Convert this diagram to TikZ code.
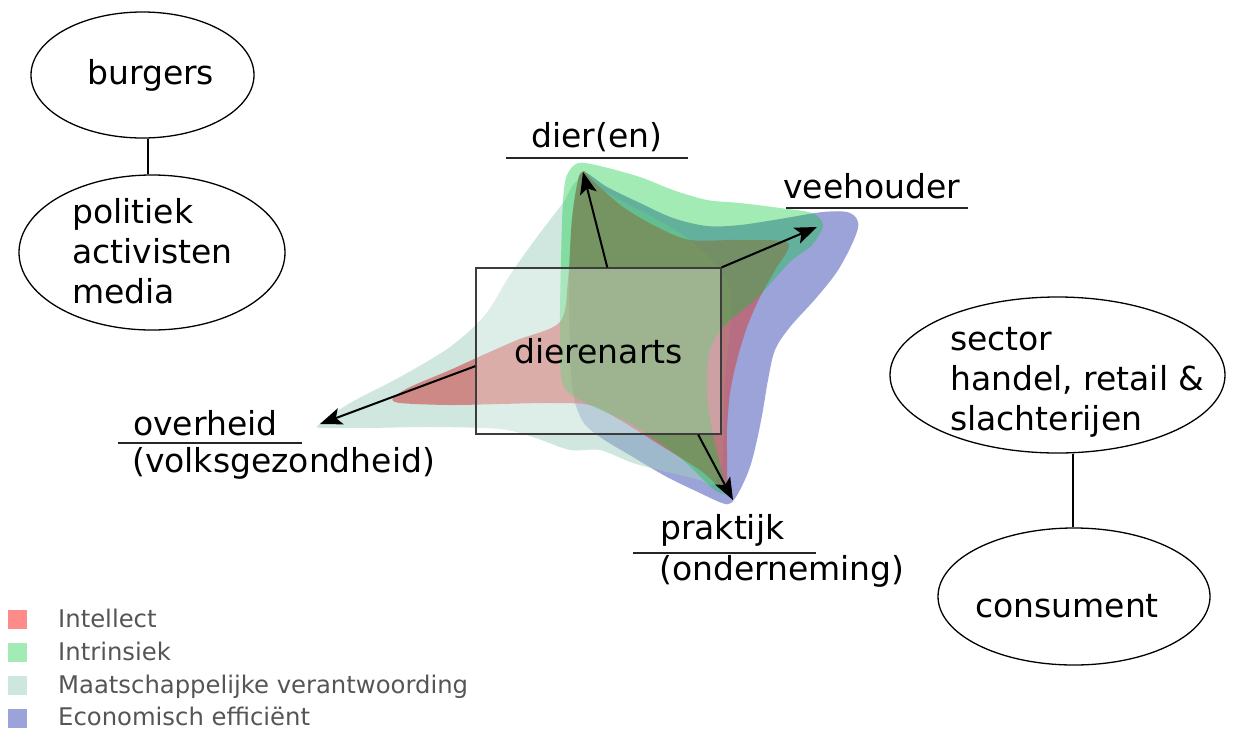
\documentclass[tikz,border=0pt]{standalone}
\usepackage{fontspec}
\setmainfont{DejaVu Sans}
\usetikzlibrary{arrows.meta,shapes.geometric}
\definecolor{blueF}{RGB}{155,163,216}
\definecolor{tealF}{RGB}{159,207,191}
\definecolor{redF}{RGB}{202,76,73}
\definecolor{greenF}{RGB}{0,200,50}
\definecolor{legRed}{RGB}{255,138,138}
\definecolor{legGreen}{RGB}{163,235,180}
\definecolor{legTeal}{RGB}{205,230,222}
\definecolor{legBlue}{RGB}{155,163,216}
\definecolor{legText}{RGB}{85,85,85}
\definecolor{rectLine}{RGB}{60,60,60}
\begin{document}
\begin{tikzpicture}[x=1pt,y=-1pt,
  lbl/.style={inner sep=0pt, anchor=base west, font=\fontsize{33}{40}\selectfont},
  ell/.style={draw=black, line width=1.3pt, ellipse, inner sep=0pt},
  uline/.style={line width=1.7pt, draw=black!85},
  arr/.style={line width=2pt, -{Stealth[length=22pt,width=17pt,inset=5pt]}},
  leg/.style={inner sep=0pt, anchor=base west, text depth=0pt, text=legText, font=\fontsize{24.3}{30}\selectfont},
  legbox/.style={minimum width=19pt, minimum height=19pt, inner sep=0pt, anchor=north west},
  link/.style={line width=1.3pt, draw=black}
]
\useasboundingbox (0,0) rectangle (1258,729);

% ---- blobs ----
\fill[blueF] plot[smooth cycle, tension=0.55] coordinates {
 (583,172) (607,187) (640,203) (673,218) (707,226) (740,225) (780,219) (823,212)
 (850,213) (858,228) (840,267) (817,297) (790,327) (775,350) (768,380) (763,410)
 (757,440) (750,467) (740,490) (731,503) (722,503) (700,493) (667,477) (633,457)
 (600,437) (582,420) (572,385) (569,300) (571,230) (576,190)};
\fill[tealF, fill opacity=0.5] plot[smooth cycle, tension=0.5] coordinates {
 (318,425) (350,403) (400,377) (450,347) (485,315) (510,275) (537,237) (563,203)
 (580,180) (620,200) (690,240) (730,290) (725,380) (722,460) (712,485) (700,480)
 (667,472) (633,463) (600,450) (570,450) (533,437) (500,429) (433,427) (367,428) (325,428)};
\fill[redF, fill opacity=0.6] plot[smooth cycle, tension=0.5] coordinates {
 (393,398) (410,387) (450,370) (483,355) (517,340) (560,322) (568,280) (572,220)
 (578,180) (584,171) (592,180) (623,207) (657,227) (690,240) (740,240) (788,243)
 (775,270) (760,297) (747,327) (737,360) (730,393) (727,430) (727,465) (725,490)
 (700,470) (660,445) (620,420) (590,405) (550,403) (500,404) (450,405) (400,403)};
\fill[greenF, fill opacity=0.36] plot[smooth cycle, tension=0.5] coordinates {
 (578,163) (600,166) (640,177) (673,190) (707,200) (740,203) (780,208) (812,213)
 (823,225) (812,245) (790,262) (757,298) (725,325) (710,350) (707,390) (712,430)
 (720,465) (727,493) (712,488) (683,460) (633,425) (590,405) (563,385) (560,330)
 (561,260) (563,200) (567,175)};

% ---- central box ----
\node[draw=rectLine, line width=1.2pt, fill=white, fill opacity=0.3, text opacity=1,
      minimum width=245pt, minimum height=166pt, inner sep=0pt,
      font=\fontsize{33}{40}\selectfont] (da) at (598.5,351) {dierenarts};

% ---- arrow tips ----
\coordinate (tipD) at (583,172);
\coordinate (tipV) at (817,227);
\coordinate (tipO) at (320,424);
\coordinate (tipP) at (733,500);
\draw[arr] (da.84.2) -- (tipD);
\draw[arr] (da.north east) -- (tipV);
\draw[arr] (da.187) -- (tipO);
\draw[arr] (da.-40.4) -- (tipP);

% ---- axis labels ----
\node[lbl] (lDier) at (531,147) {dier(en)};
\draw[uline] (506,158) -- (688,158);
\node[lbl] (lVee) at (783,198) {veehouder};
\draw[uline] (786,208) -- (968,208);
\node[lbl] (lOv) at (133,435) {overheid};
\draw[uline] (118,443) -- (302,443);
\node[lbl] (lVolks) at (132,472) {(volksgezondheid)};
\node[lbl] (lPr) at (660,539) {praktijk};
\draw[uline] (633,553) -- (816,553);
\node[lbl] (lOnd) at (659,580) {(onderneming)};

% ---- ellipses ----
\node[ell, minimum width=223pt, minimum height=126pt] (burgers) at (142.5,75) {};
\node[lbl] (tBurgers) at (87,84) {burgers};
\node[ell, minimum width=266pt, minimum height=155pt] (politiek) at (152,252.5) {};
\node[lbl] (tPol1) at (72,223) {politiek};
\node[lbl] (tPol2) at (72,263) {activisten};
\node[lbl] (tPol3) at (72,303) {media};
\draw[link] (burgers.south -| 148,0) -- (politiek.north -| 148,0);

\node[ell, minimum width=335pt, minimum height=156pt] (sector) at (1057.5,375) {};
\node[lbl] (tSec1) at (950,350) {sector};
\node[lbl] (tSec2) at (950,390) {handel, retail \&};
\node[lbl] (tSec3) at (950,430) {slachterijen};
\node[ell, minimum width=272pt, minimum height=137pt] (consument) at (1074,596.5) {};
\node[lbl] (tCons) at (975,617) {consument};
\draw[link] (sector.south -| 1073,0) -- (consument.north -| 1073,0);

% ---- legend ----
\node[legbox, fill=legRed] (k1) at (8,610) {};
\node[leg] (l1) at (58,627) {Intellect};
\node[legbox, fill=legGreen] (k2) at (8,643) {};
\node[leg] (l2) at (58,660) {Intrinsiek};
\node[legbox, fill=legTeal] (k3) at (8,676) {};
\node[leg] (l3) at (58,693) {Maatschappelijke verantwoording};
\node[legbox, fill=legBlue] (k4) at (8,709) {};
\node[leg] (l4) at (58,725) {Economisch efficiënt};
\end{tikzpicture}
\end{document}
